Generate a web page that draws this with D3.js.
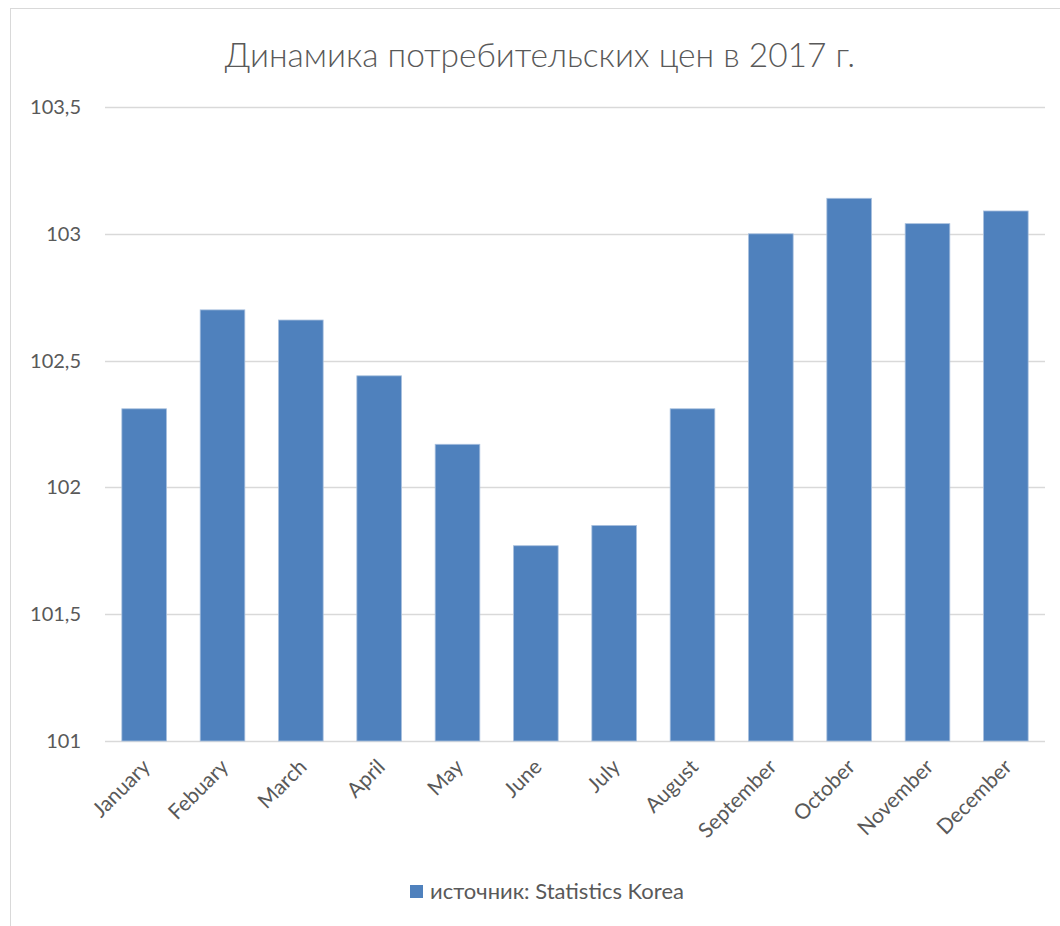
<!DOCTYPE html>
<html>
<head>
<meta charset="utf-8">
<script src="https://cdn.jsdelivr.net/npm/d3@7"></script>
<style>
  body { margin: 0; background: #fff; }
  svg { display: block; font-family: Lato, "Open Sans", sans-serif; }
</style>
</head>
<body>
<svg id="chart" width="1060" height="926"></svg>
<script>
// chart data
const months = ["January", "Febuary", "March", "April", "May", "June",
  "July", "August", "September", "October", "November", "December"];
const values = [102.31, 102.70, 102.66, 102.44, 102.17, 101.77,
  101.85, 102.31, 103.00, 103.14, 103.04, 103.09];
const yTicks = [101, 101.5, 102, 102.5, 103, 103.5];
const title = "Динамика потребительских цен в 2017 г.";
const legendLabel = "источник: Statistics Korea";

const svg = d3.select("#chart");
const textCol = "#595959";
const barCol = "#4f81bd";

// chart frame
svg.append("rect").attr("x", 10.5).attr("y", 8.5).attr("width", 1080).attr("height", 940)
  .attr("fill", "none").attr("stroke", "#d9d9d9");

const plotL = 105, plotR = 1045, plotT = 107, plotB = 741;

const x = d3.scaleBand().domain(months).range([plotL, plotR]).paddingInner(0.43).paddingOuter(0.215);
const y = d3.scaleLinear().domain([101, 103.5]).range([plotB, plotT]);

// title
svg.append("text").attr("x", 540).attr("y", 67).attr("text-anchor", "middle")
  .attr("fill", textCol).style("font-size", "33.5px").style("font-weight", 300).text(title);

// gridlines
svg.append("g").selectAll("line").data(yTicks).join("line")
  .attr("x1", plotL).attr("x2", plotR)
  .attr("y1", d => Math.round(y(d)) + 0.5).attr("y2", d => Math.round(y(d)) + 0.5)
  .attr("stroke", "#d9d9d9").attr("stroke-width", 1.5);

// y labels
const fmt = d => (Number.isInteger(d) ? d3.format("d")(d) : d3.format(".1f")(d)).replace(".", ",");
svg.append("g").selectAll("text").data(yTicks).join("text")
  .attr("x", 81).attr("y", d => y(d)).attr("dy", "0.35em")
  .attr("text-anchor", "end").attr("fill", textCol).style("font-size", "20px")
  .text(fmt);

// bars
svg.append("g").selectAll("rect").data(values).join("rect")
  .attr("x", (d, i) => x(months[i]))
  .attr("y", d => y(d))
  .attr("width", x.bandwidth())
  .attr("height", d => plotB - y(d))
  .attr("fill", barCol)
  .attr("stroke", "#a9c0de").attr("stroke-width", 0.8);

// x labels, rotated
svg.append("g").selectAll("text").data(months).join("text")
  .attr("transform", d => `translate(${x(d) + x.bandwidth() / 2 + 2},${plotB + 22}) rotate(-45)`)
  .attr("text-anchor", "end").attr("dy", "0.35em")
  .attr("fill", textCol).style("font-size", "21px")
  .text(d => d);

// legend
const lg = svg.append("g").attr("transform", "translate(410,885)");
lg.append("rect").attr("width", 13).attr("height", 13).attr("fill", barCol);
lg.append("text").attr("x", 20).attr("y", 14).attr("fill", textCol)
  .style("font-size", "22px").text(legendLabel);
</script>
</body>
</html>
